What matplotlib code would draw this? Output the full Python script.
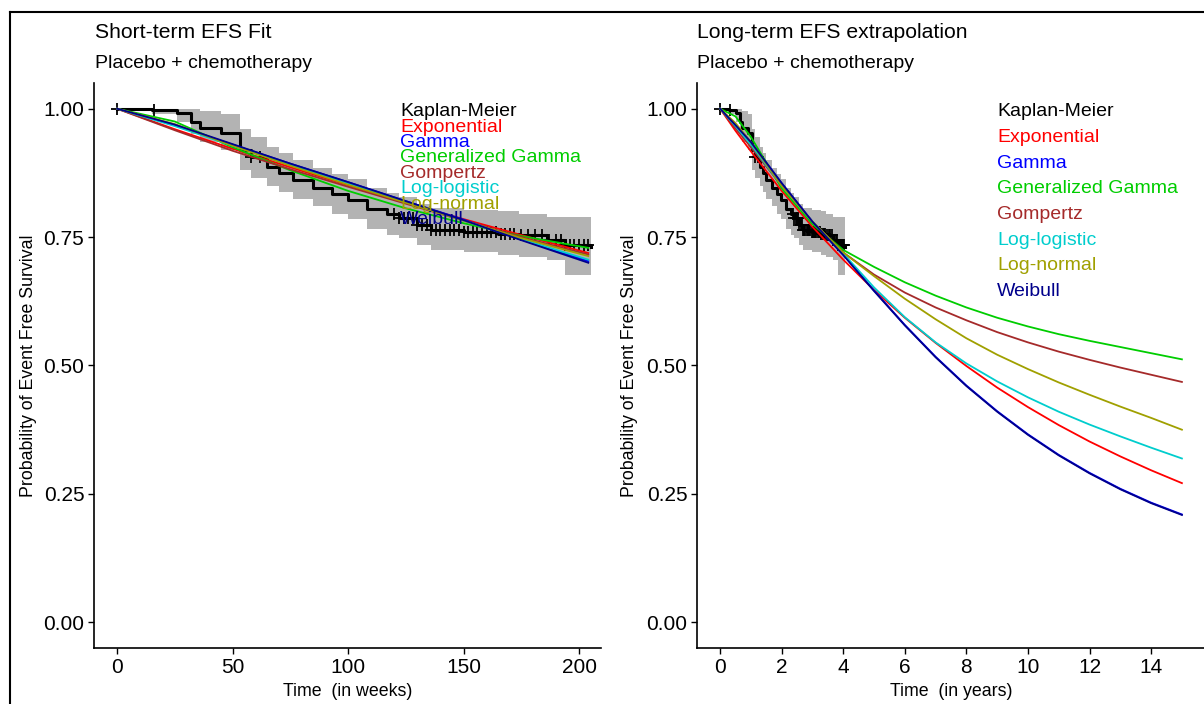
import numpy as np
import matplotlib.pyplot as plt
from matplotlib.lines import Line2D

plt.rcParams['font.family'] = ['Liberation Sans', 'DejaVu Sans']

# ---------------- Data ----------------

# Kaplan-Meier estimate, time in weeks
km_weeks = [0, 15, 26, 32, 36, 45, 53, 58, 65, 70, 76, 85, 93, 100, 108, 117, 122,
            130, 136, 150, 165, 174, 186, 194, 205]
km_surv = [1.0, .998, .992, .975, .963, .953, .920, .905, .887, .875, .862, .846, .833,
           .823, .804, .794, .788, .774, .764, .760, .756, .754, .745, .735, .731]
km_upper = [1.0, 1.0, 1.0, 1.0, .995, .99, .96, .945, .925, .913, .90, .885, .873,
            .863, .845, .835, .829, .815, .806, .803, .800, .795, .789, .789, .789]
km_lower = [1.0, .99, .975, .95, .935, .92, .88, .865, .85, .837, .825, .81, .795,
            .785, .765, .755, .748, .735, .725, .72, .715, .712, .705, .676, .676]
censor_weeks = [0, 16, 58, 62, 120, 122, 124, 126, 128, 130, 132, 134, 136, 138, 140,
                142, 144, 146, 148, 150, 152, 154, 156, 158, 160, 162, 164, 166, 168,
                170, 172, 175, 178, 181, 184, 187, 190, 192, 194, 196, 198, 200, 202, 204]
weeks_per_year = 50.5

models = ['Exponential', 'Gamma', 'Generalized Gamma', 'Gompertz',
          'Log-logistic', 'Log-normal', 'Weibull']
colors = ['#ff0000', '#0000ff', '#00cd00', '#a52a2a', '#00cdcd', '#a0a000', '#00008b']

# short-term fits (weeks)
fit_weeks = [0, 25, 50, 75, 100, 125, 150, 175, 204]
short_fits = {
    'Exponential':       [1, .960, .922, .886, .851, .817, .785, .754, .719],
    'Gamma':             [1, .968, .930, .893, .857, .820, .784, .745, .703],
    'Generalized Gamma': [1, .975, .925, .880, .840, .806, .777, .752, .729],
    'Gompertz':          [1, .958, .918, .882, .848, .815, .782, .750, .716],
    'Log-logistic':      [1, .966, .928, .891, .855, .818, .782, .746, .706],
    'Log-normal':        [1, .970, .928, .889, .852, .817, .782, .748, .713],
    'Weibull':           [1, .969, .931, .893, .857, .820, .783, .744, .700],
}

# long-term extrapolation (years)
ext_years = [0, 0.5, 1, 2, 3, 4, 5, 6, 7, 8, 9, 10, 11, 12, 13, 14, 15]
long_fits = {
    'Exponential':       [1, .957, .917, .840, .770, .706, .647, .593, .544, .499, .457, .419, .384, .352, .323, .296, .271],
    'Gamma':             [1, .968, .935, .855, .780, .716, .646, .579, .517, .461, .411, .366, .326, .291, .260, .233, .210],
    'Generalized Gamma': [1, .985, .945, .845, .775, .725, .692, .662, .636, .613, .593, .576, .561, .548, .536, .524, .512],
    'Gompertz':          [1, .962, .925, .850, .780, .720, .677, .642, .613, .588, .565, .545, .527, .511, .496, .482, .468],
    'Log-logistic':      [1, .966, .930, .850, .780, .718, .652, .594, .545, .504, .469, .438, .410, .385, .362, .340, .319],
    'Log-normal':        [1, .972, .935, .850, .780, .720, .674, .630, .590, .553, .521, .493, .467, .443, .420, .398, .375],
    'Weibull':           [1, .968, .935, .855, .780, .715, .645, .578, .516, .460, .410, .365, .325, .290, .259, .232, .209],
}

# ---------------- Figure ----------------
fig = plt.figure(figsize=(12.04, 7.04), dpi=100)
W, H = 1204, 704
ax1 = fig.add_axes([94 / W, 56 / H, 507 / W, 565 / H])
ax2 = fig.add_axes([697 / W, 56 / H, 508 / W, 565 / H])


def km_value(t, times, surv):
    idx = np.searchsorted(times, t, side='right') - 1
    return np.array(surv)[idx]


def draw_panel(ax, scale, fit_t, fits, xlim, xticks, xlabel, legend_x, legend_step):
    t = np.array(km_weeks) / scale
    ax.fill_between(t, km_lower, km_upper, step='post', color='#b3b3b3', lw=0, zorder=1)
    ax.step(t, km_surv, where='post', color='black', lw=2.2, zorder=2)
    ct = np.array(censor_weeks)
    ax.plot(ct / scale, km_value(ct, km_weeks, km_surv), '+', color='black',
            ms=9, mew=1.3, zorder=2)
    for name, c in zip(models, colors):
        ax.plot(fit_t, fits[name], color=c, lw=1.3, zorder=3)

    labels = ['Kaplan-Meier'] + models
    lcolors = ['black'] + colors
    for i, (lab, c) in enumerate(zip(labels, lcolors)):
        ax.text(legend_x, 0.994 - i * legend_step, lab, color=c, fontsize=14,
                ha='left', va='center', zorder=4)

    ax.set_xlim(*xlim)
    ax.set_ylim(-0.05, 1.05)
    ax.set_xticks(xticks)
    ax.set_yticks([0, 0.25, 0.5, 0.75, 1.0])
    ax.set_yticklabels(['0.00', '0.25', '0.50', '0.75', '1.00'])
    for s in ['top', 'right']:
        ax.spines[s].set_visible(False)
    for s in ['left', 'bottom']:
        ax.spines[s].set_linewidth(1.2)
    ax.tick_params(labelsize=15, length=4, width=1, colors='black', pad=3)
    ax.set_xlabel(xlabel, fontsize=12.8)
    ax.set_ylabel('Probability of Event Free Survival', fontsize=12.8)
    ax.xaxis.set_label_coords(0.5, -0.062)


draw_panel(ax1, 1.0, fit_weeks, short_fits, (-10, 209.5), [0, 50, 100, 150, 200],
           'Time  (in weeks)', 122.5, 0.03)
ax1.yaxis.set_label_coords((37 - 94) / 507, 0.5)

draw_panel(ax2, weeks_per_year, ext_years, long_fits, (-0.75, 15.75),
           [0, 2, 4, 6, 8, 10, 12, 14], 'Time  (in years)', 9.0, 0.05)
ax2.yaxis.set_label_coords((638 - 697) / 508, 0.5)

# titles and subtitles
fig.text(95 / W, 1 - 33 / H, 'Short-term EFS Fit', fontsize=15.2, va='center')
fig.text(95 / W, 1 - 64 / H, 'Placebo + chemotherapy', fontsize=14, va='center')
fig.text(697 / W, 1 - 33 / H, 'Long-term EFS extrapolation', fontsize=15.2, va='center')
fig.text(697 / W, 1 - 64 / H, 'Placebo + chemotherapy', fontsize=14, va='center')

# outer frame (left and top edges visible in the crop)
fig.add_artist(Line2D([10 / W, 10 / W], [0, 1 - 12 / H], color='black', lw=1.5))
fig.add_artist(Line2D([10 / W, 1], [1 - 12 / H, 1 - 12 / H], color='black', lw=1.5))

fig.savefig('out.png', dpi=100)
